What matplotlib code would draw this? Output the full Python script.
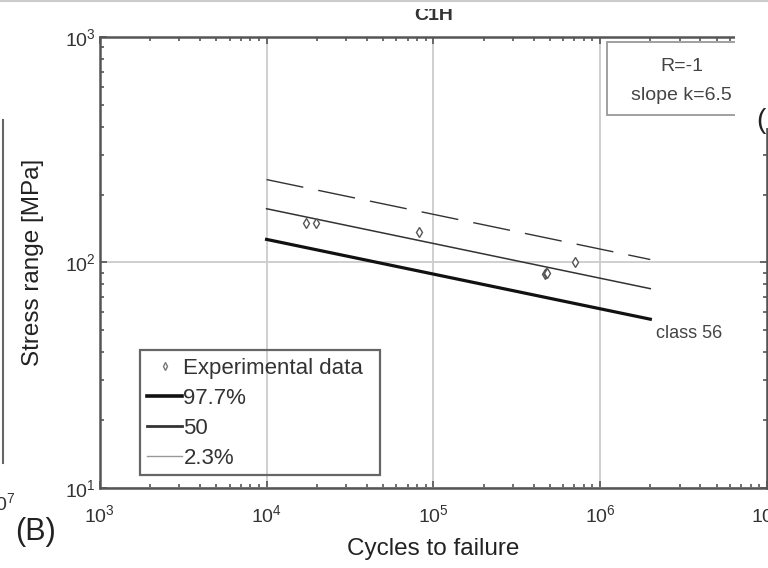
import matplotlib.pyplot as plt
import numpy as np
from matplotlib.lines import Line2D
from matplotlib.patches import Rectangle
from matplotlib.ticker import LogLocator, NullFormatter

plt.rcParams['font.family'] = ['Liberation Sans', 'DejaVu Sans']
plt.rcParams['mathtext.fontset'] = 'custom'
plt.rcParams['mathtext.rm'] = 'Liberation Sans'

# experimental points (cycles, stress range MPa)
exp_cycles = [17200, 19700, 82000, 465000, 472000, 480000, 706000]
exp_stress = [150, 150, 136, 88.5, 89.5, 90, 100]

# S-N curves from 1e4 to 2e6 cycles
curve_cycles = [1e4, 2e6]
curve_977 = [126.5, 56]
curve_50 = [173, 76.5]
curve_23 = [233, 103]

fig = plt.figure(figsize=(7.68, 5.68), dpi=100)
ax = fig.add_axes([0.130, 0.141, 0.8685, 0.794])

ax.set_xscale('log')
ax.set_yscale('log')
ax.set_xlim(1e3, 1e7)
ax.set_ylim(1e1, 1e3)

ax.grid(True, which='major', color='#cccccc', linewidth=1.3)
ax.set_axisbelow(True)

ax.plot(curve_cycles, curve_23, color='#333333', linewidth=1.0, dashes=(27, 11))
ax.plot(curve_cycles, curve_50, color='#333333', linewidth=1.1)
ax.plot(curve_cycles, curve_977, color='#111111', linewidth=2.3)
ax.plot(exp_cycles, exp_stress, linestyle='none', marker='d', markersize=5,
        markerfacecolor='white', markeredgecolor='#555555', markeredgewidth=1.0)

ax.annotate('class 56', xy=(curve_cycles[-1], curve_977[-1]), xytext=(4, -10),
            textcoords='offset points', fontsize=13, color='#444444',
            ha='left', va='center')

# R / slope box
ax.add_patch(Rectangle((0.760, 0.827), 0.225, 0.162, transform=ax.transAxes,
                       facecolor='white', edgecolor='#999999', linewidth=1.3, zorder=4))
ax.text(0.8726, 0.935, 'R=-1', transform=ax.transAxes, ha='center', va='center',
        fontsize=14, color='#444444', zorder=5)
ax.text(0.8726, 0.870, 'slope k=6.5', transform=ax.transAxes, ha='center', va='center',
        fontsize=14, color='#444444', zorder=5)

ax.set_title('C1H', fontsize=14, fontweight='bold', color='#333333', pad=12)
ax.set_xlabel('Cycles to failure', fontsize=17.5, color='#222222', labelpad=8)
ax.set_ylabel('Stress range [MPa]', fontsize=17.5, color='#222222', labelpad=15)

for s in ax.spines.values():
    s.set_linewidth(1.8)
    s.set_color('#555555')

ax.xaxis.set_minor_locator(LogLocator(base=10, subs=np.arange(2, 10)))
ax.yaxis.set_minor_locator(LogLocator(base=10, subs=np.arange(2, 10)))
ax.xaxis.set_minor_formatter(NullFormatter())
ax.yaxis.set_minor_formatter(NullFormatter())
ax.tick_params(which='both', direction='in', top=True, right=True, colors='#555555',
               labelcolor='#333333', labelsize=14)
ax.tick_params(which='major', length=5, width=1.2)
ax.tick_params(which='minor', length=3, width=1.2)
ax.tick_params(axis='x', pad=12)
ax.tick_params(axis='y', pad=3)

handles = [
    Line2D([], [], linestyle='none', marker='d', markersize=4,
           markerfacecolor='white', markeredgecolor='#777777'),
    Line2D([], [], color='#111111', linewidth=2.6),
    Line2D([], [], color='#333333', linewidth=2.0),
    Line2D([], [], color='#999999', linewidth=1.0),
]
labels = ['Experimental data', '97.7%', '50', '2.3%']
leg = ax.legend(handles, labels, loc='upper left', bbox_to_anchor=(0.057, 0.308),
                frameon=False, fontsize=16, handlelength=1.6, handletextpad=0.05,
                labelspacing=0.40, borderaxespad=0)
for t in leg.get_texts():
    t.set_color('#333333')
ax.add_patch(Rectangle((0.060, 0.029), 0.360, 0.277, transform=ax.transAxes,
                       facecolor='none', edgecolor='#666666', linewidth=1.6, zorder=5))

# neighbouring panels / crop remnants
fig.add_artist(Rectangle((735 / 768, 1 - 128 / 568), 33 / 768, 128 / 568,
                         transform=fig.transFigure, facecolor='white', edgecolor='none', zorder=10))
fig.add_artist(Rectangle((0, 1 - 9 / 568), 1, 9 / 568, transform=fig.transFigure,
                         facecolor='white', edgecolor='none', zorder=10))
fig.add_artist(Line2D([0, 1], [0.998, 0.998], transform=fig.transFigure,
                      color='#cccccc', linewidth=1.5, zorder=11))
fig.add_artist(Line2D([0.004, 0.004], [1 - 120 / 568, 1 - 463 / 568], transform=fig.transFigure,
                      color='#666666', linewidth=1.5, zorder=11))
fig.text(-0.02, 0.102, r'$\mathregular{10^7}$', fontsize=14, color='#333333')
fig.text(0.020, 0.05, '(B)', fontsize=22, color='#222222')
fig.text(0.985, 0.775, '(', fontsize=20, color='#222222', zorder=12)

fig.savefig('out.png', dpi=100)
